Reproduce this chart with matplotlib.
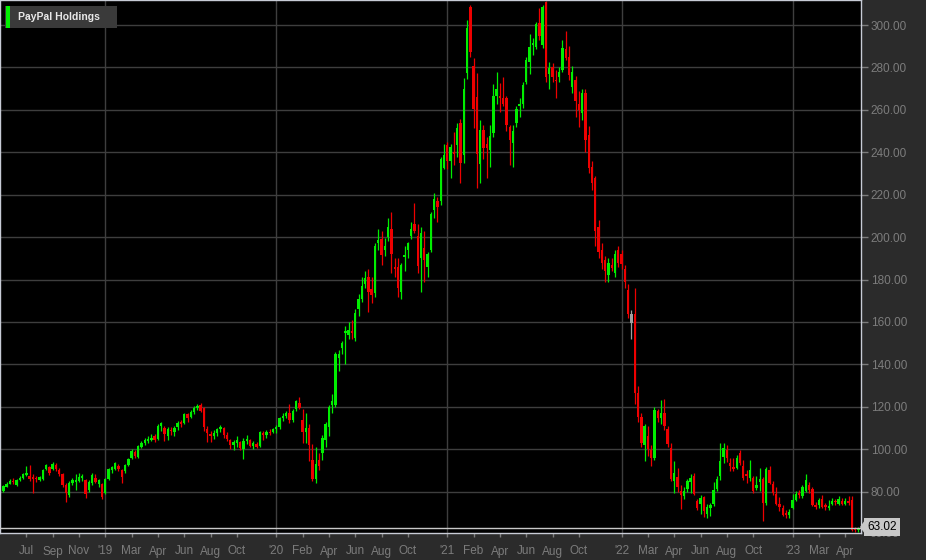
import matplotlib
matplotlib.use('Agg')
import matplotlib.pyplot as plt
from matplotlib.patches import Rectangle, Polygon
import numpy as np
import pandas as pd

# weekly PYPL candles, first week 2018-05-28
opens = [80.5, 82.4, 83.8, 85.2, 83.0, 85.5, 86.5, 88.0, 87.2, 86.8, 86.5, 85.5, 85.8, 90.5, 91.5, 90.5,
         92.5, 90.2, 88.5, 83.0, 78.5, 84.0, 84.5, 85.0, 86.5, 85.5, 81.0, 84.0, 86.5, 83.5, 83.5,
         # 2019
         79.5, 86, 90, 90.5, 92, 90, 89.5, 92.5, 96, 98.5, 96.5, 101, 103, 104, 104.5, 106, 105, 111, 110,
         106, 109, 108, 110.5, 113, 112.5, 116.5, 115, 117.5, 119.5, 121, 119.5, 109.5, 107, 106, 107.5,
         109.5, 110, 106.5, 104.5, 102, 103, 103.5, 100, 104, 104.5, 101.5, 102.5, 101.5, 107.5, 106.5,
         108, 108,
         # 2020
         109.5, 110.5, 114.5, 115.5, 117, 114, 118.8, 122, 114, 108, 110, 95, 86, 95, 98, 104.5, 110.6,
         121, 121, 143, 147.5, 155, 154, 155.5, 152.6, 166, 171, 178, 181, 175.4, 173.5, 197, 199, 193.8,
         200, 203.7, 186, 186, 174, 190.5, 193.8, 200.4, 206, 200.4, 190, 195, 185.7, 194, 212.6, 217,
         217, 232.5,
         # 2021
         243.3, 236, 240, 243.3, 254, 238.6, 277.3, 308.5, 280.6, 266, 234.4, 250.4, 244, 241, 249, 266.5,
         266.5, 265.5, 265.5, 252, 244.3, 253.7, 261.8, 262.7, 273, 282.5, 290.5, 289.6, 301, 290.6, 311,
         276.9, 280, 274.2, 275.4, 279, 288.7, 285, 270.7, 274, 263, 258.5, 268, 248, 233, 228, 205, 194,
         189, 182, 187, 183, 194,
         # 2022
         192, 185, 175, 163.6, 163.6, 126.7, 115, 102, 106, 99.8, 96, 118, 114.6, 117, 109.7, 100.8, 85,
         87, 80.5, 78, 81.4, 84.7, 87.5, 75.7, 74.3, 77.6, 69.6, 72.4, 74.3, 81.4, 87.5, 96.5, 99.8, 93.6,
         91.8, 91.3, 98.4, 92, 88.5, 86.6, 86.6, 81.9, 84.7, 86, 74.8, 90.4, 83.8, 79, 74.3, 72.4, 70, 69,
         # 2023
         72.4, 76.2, 79.5, 78, 80.5, 83.3, 81.4, 73.8, 73.8, 76.7, 73.5, 72.4, 74.3, 75.5, 74.3, 75.7,
         74.3, 75.7, 76, 62.5, 61.8]
highs = [83, 84.5, 86, 86.2, 86, 87.5, 89, 92, 92.5, 88.5, 87.5, 87.5, 90.5, 93, 92, 93.8, 93.5, 91, 89,
         84, 85, 86.5, 88.5, 89, 88.5, 86, 85.5, 89, 88.5, 86, 84,
         86.5, 91, 92, 94, 93, 90.5, 93, 96, 100, 99.5, 102, 104, 105.5, 106, 107, 107, 112, 113, 111,
         110.5, 110.5, 111, 113.5, 114, 117, 117, 118.5, 120.5, 121.5, 122, 120, 111, 108.5, 109, 110,
         111.5, 110.5, 108, 105, 104.5, 106, 104, 105.5, 106.5, 105, 104, 103.5, 108.5, 108.5, 109,
         109.5, 110,
         111.5, 115, 117, 118, 121.5, 119, 123, 124.5, 119, 117, 112, 102.5, 101, 98, 106.5, 113, 121,
         126, 146, 147, 151, 158, 160, 161, 166, 173, 181, 184, 185, 181, 197, 204, 203, 199.5, 209,
         211.7, 190, 190, 188, 196, 197.5, 207, 216, 206, 204.6, 203, 193, 212, 221, 219, 238, 244,
         245, 244, 249.5, 254, 255.6, 275, 302.4, 309.5, 284.4, 277.3, 255, 252.8, 247, 252.8, 272, 278,
         272.6, 275.4, 266.5, 252.8, 253, 262, 265.5, 273, 285, 296, 294, 301.5, 308, 309.4, 311.5,
         282.5, 282, 279, 280, 293, 297, 290, 280.5, 276, 269, 270, 270, 252.3, 236, 229, 208, 197,
         191, 190, 190, 194, 196,
         194, 187, 178, 165.5, 176, 129.6, 117, 112, 111, 102, 120, 119, 123, 123.5, 111, 103, 94.6,
         91, 83, 82, 86, 88.5, 89, 76.5, 78.5, 78, 74, 74.5, 84.5, 87.5, 103, 103, 102, 96, 96, 97.5,
         99.5, 95, 90, 95, 87.5, 87.5, 91, 87, 91.5, 92, 85, 82, 77.5, 73.5, 71.5, 72,
         79, 80.5, 81, 83, 88.5, 84.5, 82, 75, 77, 78.5, 74.5, 76, 77, 76.5, 78, 77, 77, 78, 78, 63.5,
         63.5]
lows = [80, 82, 83.5, 83.8, 82.5, 85, 86, 87.5, 85, 79.5, 84.5, 84.8, 85.3, 90, 88, 90, 89.5, 87.5, 82,
        75, 77.5, 83, 81, 84.5, 85, 77, 80, 83, 84, 82, 76.5,
        79, 85.5, 89, 90, 89.5, 84, 89, 92, 95.5, 96, 96, 100.5, 102, 103, 104, 103.5, 104.5, 108.5,
        104, 104.5, 106.5, 106, 109, 110.5, 112, 113, 114.5, 116.5, 118.5, 117.5, 108.5, 103.5, 103.5,
        105, 106, 108, 105.5, 104, 100, 99.5, 101, 99.5, 95.5, 102.5, 101, 100, 100.5, 101, 104.5,
        105.5, 106.5, 107.5,
        107.5, 109.5, 113.5, 114.5, 112.5, 113, 118, 119, 103, 103, 94.5, 85, 84, 90, 95, 101, 106,
        117, 120, 137, 145, 140, 152, 152, 151, 163, 169.5, 176, 164.5, 169, 172, 194, 187, 191, 198,
        183, 181, 171.6, 171, 184, 190, 199, 201.8, 183, 174, 178.7, 181, 193, 209, 207, 215, 232,
        232, 228, 234, 237.7, 225.4, 235, 274.5, 285, 251.4, 223, 225.4, 237, 227.8, 233, 247, 263,
        259, 261.8, 250, 233.9, 233, 252, 256.6, 261, 272, 277, 286, 288.5, 293, 289, 273, 269.8, 273,
        265.5, 273, 278, 283.5, 274, 268, 256.6, 252, 255, 240, 230, 222, 196, 190, 185, 178.7, 178.7,
        184, 181, 186,
        185, 176, 162, 152, 121.5, 113, 101, 94.6, 97, 92, 95, 113, 112, 109, 101, 85, 79.5, 80, 72,
        76.5, 80, 79.5, 78.5, 71.5, 69.5, 68, 67.5, 68.5, 73, 80.5, 85.5, 93.5, 94, 89.5, 89.5, 90.5,
        92.5, 85.5, 84, 85, 79.5, 81, 80.5, 66.3, 73.5, 83.5, 78.5, 73.5, 71, 68.5, 67.5, 67.5,
        72, 75.5, 77, 77, 80, 79.5, 73, 72, 72.5, 72.5, 71.5, 71.5, 73.5, 73.5, 73.5, 73.5, 73.5,
        73.5, 61.5, 61, 61.2]
closes = [82.5, 83.8, 85.2, 84.6, 85.5, 86.5, 88.5, 88.8, 85.8, 86.0, 85.8, 86.8, 90.0, 92.5, 88.8, 93.0,
          90.5, 88.2, 83.0, 79.5, 84.0, 85.5, 85.5, 87.0, 87.5, 79.0, 84.5, 88.0, 84.5, 85.5, 77.5,
          86, 90.5, 91.5, 93.5, 90.5, 87, 92.5, 95.5, 99.3, 97, 101.5, 103, 104.5, 104.5, 105.5, 104.5,
          111, 112.5, 107, 109.5, 108.5, 109.8, 112.5, 112, 116.5, 114.5, 117.5, 119.5, 120.5, 118,
          110.5, 107.5, 106, 107.5, 109.5, 110.5, 106.5, 105, 102, 103.5, 104.5, 100.5, 104, 104.5,
          101.5, 103, 101, 108, 106.5, 108, 107.5, 109.5,
          110.5, 114.5, 115.5, 117, 114, 118, 122.5, 119.6, 108, 110, 102, 86, 93, 92, 105.5, 112, 120,
          122.5, 145, 145, 150, 155.5, 156, 155, 164, 170.6, 176.8, 180.5, 174, 172.5, 195.7, 198.5,
          191.4, 196, 204.6, 191.9, 185, 175.8, 186.7, 191.5, 197, 204, 203, 186.2, 202, 189, 192, 211,
          218, 214, 237, 238.6,
          236, 242.4, 239, 251.4, 234.8, 269.8, 298.6, 287.3, 260.3, 239, 250.4, 242, 242, 247.6, 266.5,
          269.8, 265.5, 262.7, 253, 246, 250, 260.3, 263, 271.7, 283.5, 289.6, 291.5, 300.5, 294.8,
          308.5, 275.4, 279.7, 275.4, 273.6, 277.8, 289, 284.4, 276.4, 277.8, 264, 260, 268, 246, 232.5,
          225.4, 203, 193, 188, 184, 188, 185.5, 192, 188,
          187.5, 178.7, 163.6, 159.3, 126.3, 115.4, 103, 111, 100, 96, 118.7, 114.5, 117, 111, 102.6,
          86, 89, 82, 78.5, 80.5, 85, 86.6, 79, 72.4, 77, 71, 72.9, 73.8, 81, 86, 94.6, 100.8, 96, 92.2,
          90.8, 96, 93.6, 86.6, 87.5, 90.4, 80.5, 83.3, 86, 74.8, 90.8, 84.2, 79.5, 74.3, 72.9, 69, 69,
          70.5,
          76.2, 79, 78.5, 82, 85.6, 81, 73.8, 72.9, 76.2, 72.9, 72.9, 73.3, 75.7, 75, 76.7, 74.3, 75.7,
          74.5, 62, 61.8, 63.02]

neutral_weeks = ['2022-01-24']

tick_weeks = ['2018-07-16', '2018-09-10', '2018-11-05', '2018-12-31', '2019-02-25', '2019-04-22',
              '2019-06-17', '2019-08-12', '2019-10-07', '2019-12-30', '2020-02-24', '2020-04-20',
              '2020-06-15', '2020-08-10', '2020-10-05', '2020-12-28', '2021-02-22', '2021-04-19',
              '2021-06-14', '2021-08-09', '2021-10-04', '2022-01-03', '2022-02-28', '2022-04-25',
              '2022-06-20', '2022-08-15', '2022-10-10', '2023-01-02', '2023-02-27', '2023-04-24']
tick_labels = ['Jul', 'Sep', 'Nov', "'19", 'Mar', 'Apr', 'Jun', 'Aug', 'Oct', "'20", 'Feb', 'Apr',
               'Jun', 'Aug', 'Oct', "'21", 'Feb', 'Apr', 'Jun', 'Aug', 'Oct', "'22", 'Mar', 'Apr',
               'Jun', 'Aug', 'Oct', "'23", 'Mar', 'Apr']

dates = pd.date_range('2018-05-28', periods=len(closes), freq='W-MON')
o = np.array(opens, float)
h = np.array(highs, float)
l = np.array(lows, float)
c = np.array(closes, float)
x = np.arange(len(c))

GREEN = '#00ee00'
RED = '#ee0000'
GRAY = '#a0a0a0'
colors = np.where(c >= o, GREEN, RED).astype(object)
for w in neutral_weeks:
    colors[dates.get_loc(pd.Timestamp(w))] = GRAY

plt.rcParams['font.family'] = ['Liberation Sans', 'DejaVu Sans']

W, H = 926, 560
fig = plt.figure(figsize=(W / 100, H / 100), dpi=100)
fig.patch.set_facecolor('#2b2b2b')
ax = fig.add_axes([0, (H - 533) / H, 861 / W, 533 / H])
ax.set_facecolor('black')

# grid
yt = np.arange(80, 301, 20)
for v in yt:
    ax.axhline(v, color='#3e3e3e', lw=1, zorder=0)
tick_pos = [dates.get_loc(pd.Timestamp(t)) for t in tick_weeks]
for p, lab in zip(tick_pos, tick_labels):
    if lab.startswith("'"):
        ax.axvline(p, color='#3e3e3e', lw=1, zorder=0)

# candles
ax.vlines(x, l, h, colors=list(colors), lw=0.9, zorder=2)
body = np.maximum(np.abs(c - o), 0.6)
ax.bar(x, body, bottom=np.minimum(o, c), width=0.72, color=list(colors), lw=0, zorder=3)

# last price line
last = c[-1]
ax.axhline(last, color='#c8c8c8', lw=1, zorder=4)

ax.set_xlim(-1.02, 260.8)
ax.set_ylim(60.5, 311.8)

ax.yaxis.tick_right()
ax.set_yticks(yt)
ax.set_yticklabels(['%.2f' % v for v in yt])
ax.set_xticks(tick_pos)
ax.set_xticklabels(tick_labels)
ax.tick_params(axis='y', colors='#7c7c7c', labelsize=8.5, length=5, width=1, pad=2,
               labelcolor='#7c7c7c')
ax.tick_params(axis='x', colors='#7c7c7c', labelsize=8.5, length=3, width=1, pad=6,
               labelcolor='#7c7c7c')
for s in ax.spines.values():
    s.set_color('#c8ccd6')
    s.set_linewidth(1)

# partially hidden 60.00 label
fig.text(869 / W, 1 - 534 / H, '60.00', color='#7c7c7c', fontsize=8.5, ha='left', va='center')

# last price tag
fig.text(882 / W, 1 - 527 / H, '%.2f' % last, color='black', fontsize=8.5, ha='center', va='center',
         zorder=10, bbox=dict(boxstyle='square,pad=0.25', fc='#c8c8c8', ec='none'))
fig.patches.append(Polygon([[860 / W, 1 - 527 / H], [865 / W, 1 - 520 / H], [865 / W, 1 - 534 / H]],
                           closed=True, transform=fig.transFigure, fc='#c8c8c8', ec='none', zorder=10))

# legend box
fig.patches.append(Rectangle((5 / W, 1 - 28 / H), 112 / W, 22 / H, transform=fig.transFigure,
                             fc='#3a3a3a', ec='none', zorder=10))
fig.patches.append(Rectangle((6 / W, 1 - 28 / H), 3.5 / W, 22 / H, transform=fig.transFigure,
                             fc='#00ee00', ec='none', zorder=11))
fig.text(18 / W, 1 - 17.5 / H, 'PayPal Holdings', color='#e8e8e8', fontsize=7.5, fontweight='bold',
         ha='left', va='center', zorder=12)

fig.savefig('out.png', dpi=100, facecolor=fig.get_facecolor())
